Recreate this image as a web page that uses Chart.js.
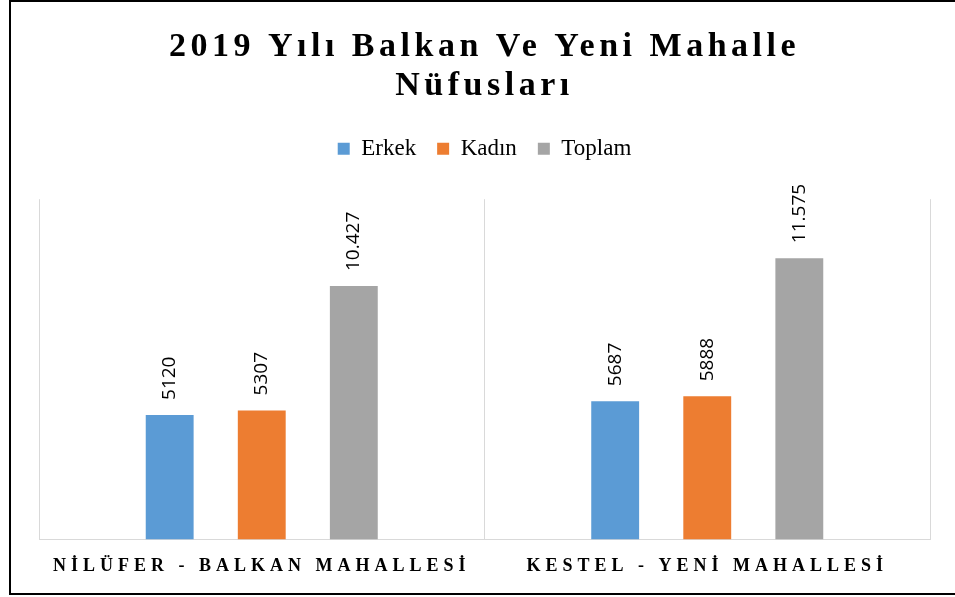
<!DOCTYPE html>
<html lang="tr">
<head>
<meta charset="utf-8">
<title>2019 Yılı Balkan Ve Yeni Mahalle Nüfusları</title>
<script src="https://cdn.jsdelivr.net/npm/chart.js@4.4.1/dist/chart.umd.min.js"></script>
<style>
  html, body { margin: 0; padding: 0; background: #fff; overflow: hidden; }
  #wrap { position: relative; width: 955px; height: 597px; }
  #frame {
    position: absolute; left: 9px; top: 0; width: 1000px; height: 595px;
    box-sizing: border-box; border: 2px solid #000; pointer-events: none;
  }
</style>
</head>
<body>
<div id="wrap">
  <canvas id="chart" width="955" height="597"></canvas>
  <div id="frame"></div>
</div>
<script>
const categories = ['NİLÜFER - BALKAN MAHALLESİ', 'KESTEL - YENİ MAHALLESİ'];
const seriesNames = ['Erkek', 'Kadın', 'Toplam'];
const erkek = [5120, 5687];
const kadin = [5307, 5888];
const toplam = [10427, 11575];
const colors = ['#5B9BD5', '#ED7D31', '#A5A5A5'];

// 10.427 style grouping only for 5+ digit numbers, like the original
function formatValue(v) {
  const s = String(v);
  if (s.length <= 4) return s;
  return s.replace(/\B(?=(\d{3})+(?!\d))/g, '.');
}

const barLabels = {
  id: 'barLabels',
  afterDatasetsDraw(chart) {
    const ctx = chart.ctx;
    chart.data.datasets.forEach((ds, i) => {
      chart.getDatasetMeta(i).data.forEach((bar, j) => {
        ctx.save();
        ctx.translate(bar.x, bar.y - 15);
        ctx.rotate(-Math.PI / 2);
        ctx.font = '19px "Open Sans"';
        ctx.fillStyle = '#000';
        ctx.textAlign = 'left';
        ctx.textBaseline = 'middle';
        ctx.fillText(formatValue(ds.data[j]), 0, 0);
        ctx.restore();
      });
    });
  }
};

// letter spacing for title and category labels, extra room under legend
const spacing = {
  id: 'spacing',
  beforeInit(chart) {
    const fit = chart.legend.fit;
    chart.legend.fit = function () {
      fit.call(this);
      this.height += 29;
    };
  },
  beforeDraw(chart) {
    const t = chart.titleBlock;
    if (t && !t._spaced) {
      const d = t.draw;
      t.draw = function () {
        const c = this.ctx;
        c.save();
        c.letterSpacing = '4.5px';
        d.apply(this, arguments);
        c.restore();
      };
      t._spaced = true;
    }
    const x = chart.scales.x;
    if (x && !x._spaced) {
      const dl = x.drawLabels;
      x.drawLabels = function () {
        const c = this.ctx;
        c.save();
        c.letterSpacing = '5px';
        dl.apply(this, arguments);
        c.restore();
      };
      x._spaced = true;
    }
  }
};

const ctx = document.getElementById('chart').getContext('2d');
new Chart(ctx, {
  type: 'bar',
  data: {
    labels: categories,
    datasets: [
      { label: seriesNames[0], data: erkek, backgroundColor: colors[0] },
      { label: seriesNames[1], data: kadin, backgroundColor: colors[1] },
      { label: seriesNames[2], data: toplam, backgroundColor: colors[2] }
    ]
  },
  options: {
    responsive: false,
    animation: false,
    devicePixelRatio: 1,
    datasets: {
      bar: { categoryPercentage: 0.62, barPercentage: 0.52 }
    },
    layout: { padding: { left: 39, right: 25, top: 0, bottom: 4 } },
    plugins: {
      title: {
        display: true,
        text: ['2019 Yılı Balkan Ve Yeni Mahalle', 'Nüfusları'],
        color: '#000',
        font: { family: '"Liberation Serif", "Times New Roman", serif', size: 34, weight: 'bold', lineHeight: 1.15 },
        padding: { top: 28, bottom: 10 }
      },
      legend: {
        display: true,
        position: 'top',
        labels: {
          color: '#000',
          boxWidth: 12,
          boxHeight: 12,
          padding: 21,
          font: { family: '"Liberation Serif", "Times New Roman", serif', size: 23 }
        }
      },
      tooltip: { enabled: false }
    },
    scales: {
      x: {
        grid: { color: '#d9d9d9', lineWidth: 1, drawTicks: false, offset: true },
        border: { color: '#d9d9d9', width: 1 },
        ticks: {
          color: '#000',
          padding: 16,
          font: { family: '"Liberation Serif", "Times New Roman", serif', size: 18, weight: 'bold' }
        }
      },
      y: {
        display: false,
        min: 0,
        max: 14000
      }
    }
  },
  plugins: [barLabels, spacing]
});
</script>
</body>
</html>
